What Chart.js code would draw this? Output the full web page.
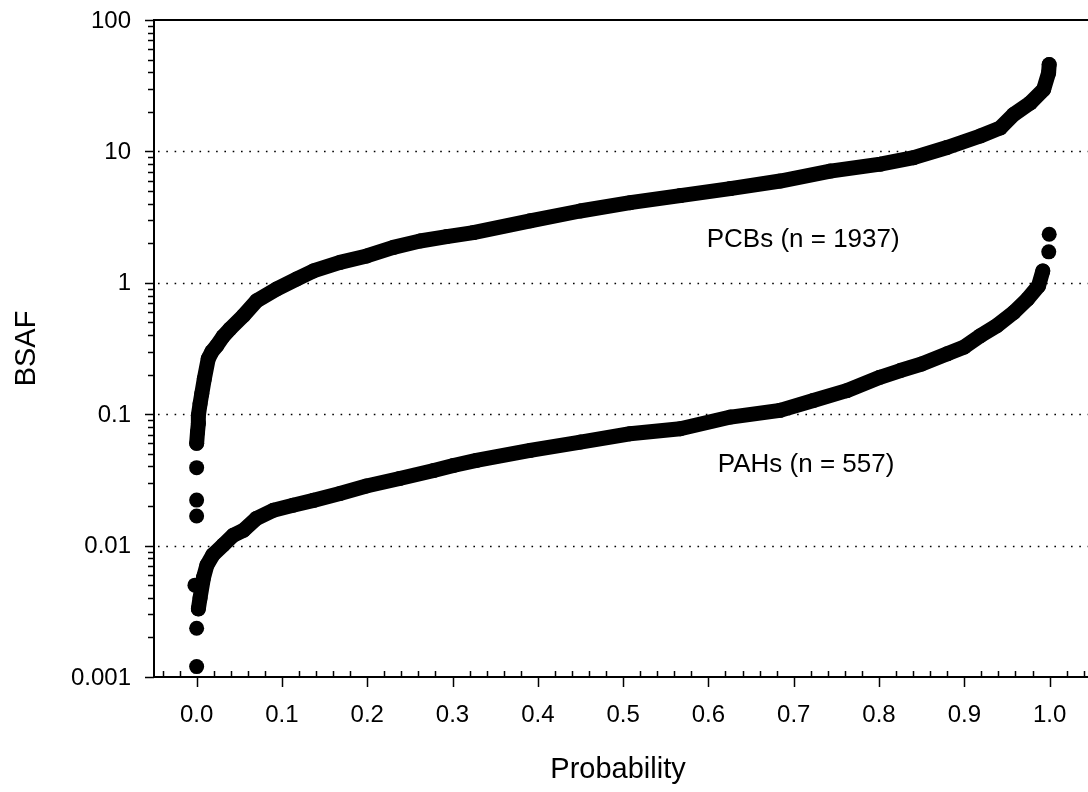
<!DOCTYPE html>
<html>
<head>
<meta charset="utf-8">
<title>BSAF - Probability</title>
<script src="https://cdn.jsdelivr.net/npm/chart.js@4.4.1/dist/chart.umd.min.js"></script>
<style>
  body { margin: 0; background: #fff; }
  #wrap { width: 1088px; height: 792px; }
</style>
</head>
<body>
<div id="wrap"><canvas id="grafico" width="1088" height="792"></canvas></div>
<script>
// PCBs - tratto continuo (probabilita, BSAF)
const pcbProb = [0.000, 0.001, 0.002, 0.002, 0.004, 0.006, 0.009, 0.0136, 0.018, 0.0235, 0.031, 0.039, 0.0547, 0.0704,
  0.0938, 0.1173, 0.1368, 0.168, 0.1994, 0.2306, 0.2619, 0.2932, 0.3244, 0.391, 0.4496, 0.5082, 0.5669,
  0.6255, 0.6842, 0.7428, 0.8015, 0.8405, 0.8797, 0.9187, 0.9422, 0.9578, 0.9774, 0.993, 0.9988, 0.9995];
const pcbBsaf = [0.060, 0.073, 0.085, 0.098, 0.12, 0.143, 0.186, 0.264, 0.300, 0.332, 0.390, 0.445, 0.561, 0.73,
  0.896, 1.07, 1.23, 1.43, 1.60, 1.86, 2.08, 2.25, 2.41, 2.96, 3.52, 4.07, 4.61,
  5.21, 5.95, 7.08, 8.0, 8.96, 10.7, 13.1, 15.1, 19.1, 23.4, 29.6, 39.6, 45.8];
// PCBs - punti isolati
const pcbIsolProb = [0.0, 0.0, 0.0];
const pcbIsolBsaf = [0.0392, 0.0222, 0.0168];

// PAHs - tratto continuo
const pahProb = [0.002, 0.004, 0.008, 0.012, 0.019, 0.031, 0.043, 0.055, 0.070, 0.090, 0.113, 0.137,
  0.168, 0.199, 0.238, 0.278, 0.301, 0.328, 0.391, 0.450, 0.508, 0.567, 0.626, 0.684, 0.723, 0.762,
  0.801, 0.825, 0.850, 0.880, 0.900, 0.919, 0.938, 0.958, 0.974, 0.987, 0.992];
const pahBsaf = [0.0033, 0.0040, 0.0057, 0.0071, 0.0085, 0.0101, 0.0120, 0.0131, 0.0161, 0.0186, 0.0203, 0.0221,
  0.0249, 0.0284, 0.0324, 0.0373, 0.0407, 0.0445, 0.0530, 0.0614, 0.0710, 0.0774, 0.0951, 0.107, 0.127, 0.151,
  0.191, 0.215, 0.241, 0.288, 0.325, 0.396, 0.471, 0.596, 0.751, 0.948, 1.23];
// PAHs - punti isolati
const pahIsolProb = [0.0, 0.0, -0.002, 0.999, 0.9995];
const pahIsolBsaf = [0.0012, 0.00235, 0.0050, 1.72, 2.34];

// assi
const xTicks = [0.0, 0.1, 0.2, 0.3, 0.4, 0.5, 0.6, 0.7, 0.8, 0.9, 1.0];
const xTickLabels = ['0.0', '0.1', '0.2', '0.3', '0.4', '0.5', '0.6', '0.7', '0.8', '0.9', '1.0'];
const yTicks = [0.001, 0.01, 0.1, 1, 10, 100];
const yTickLabels = ['0.001', '0.01', '0.1', '1', '10', '100'];
const gridValues = [0.01, 0.1, 1, 10];
const etichette = ['PCBs (n = 1937)', 'PAHs (n = 557)'];

function punti(xs, ys) {
  return xs.map((x, i) => ({ x: x, y: ys[i] }));
}

const FONT = "'Liberation Sans', Arial, sans-serif";

// Disegno assi, tacche, griglia e testi
const assiPlugin = {
  id: 'assi',
  beforeDatasetsDraw(chart) {
    const ctx = chart.ctx;
    const a = chart.chartArea;
    const sy = chart.scales.y;
    ctx.save();
    ctx.strokeStyle = '#000';
    ctx.lineWidth = 1.6;
    ctx.setLineDash([1.6, 6.7]);
    gridValues.forEach(v => {
      const py = Math.round(sy.getPixelForValue(v)) + 0.5;
      ctx.beginPath();
      ctx.moveTo(a.left + 4, py);
      ctx.lineTo(a.right, py);
      ctx.stroke();
    });
    ctx.restore();
  },
  afterDatasetsDraw(chart) {
    const ctx = chart.ctx;
    const a = chart.chartArea;
    const sx = chart.scales.x;
    const sy = chart.scales.y;
    ctx.save();
    ctx.strokeStyle = '#000';
    ctx.fillStyle = '#000';

    // linee degli assi
    ctx.lineWidth = 2;
    ctx.beginPath();
    ctx.moveTo(a.left, a.top);
    ctx.lineTo(a.right, a.top);
    ctx.moveTo(a.left, a.top - 1);
    ctx.lineTo(a.left, a.bottom + 1);
    ctx.moveTo(a.left - 1, a.bottom);
    ctx.lineTo(a.right, a.bottom);
    ctx.stroke();

    // tacche asse x
    ctx.lineWidth = 1.5;
    ctx.beginPath();
    for (let i = -2; i <= 52; i++) {
      const v = i / 50;
      if (v < sx.min || v > sx.max) continue;
      const px = Math.round(sx.getPixelForValue(v)) + 0.5;
      if (i % 5 === 0) {
        ctx.moveTo(px, a.bottom);
        ctx.lineTo(px, a.bottom + 10);
      } else {
        ctx.moveTo(px, a.bottom);
        ctx.lineTo(px, a.bottom - 6);
      }
    }
    // tacche asse y
    yTicks.forEach(v => {
      const py = Math.round(sy.getPixelForValue(v)) + 0.5;
      ctx.moveTo(a.left, py);
      ctx.lineTo(a.left - 9, py);
      if (v < 100) {
        for (let k = 2; k <= 9; k++) {
          const pm = Math.round(sy.getPixelForValue(v * k)) + 0.5;
          ctx.moveTo(a.left, pm);
          ctx.lineTo(a.left - 6, pm);
        }
      }
    });
    ctx.stroke();

    // etichette tacche
    ctx.font = '24px ' + FONT;
    ctx.textBaseline = 'middle';
    ctx.textAlign = 'center';
    xTicks.forEach((v, i) => {
      ctx.fillText(xTickLabels[i], sx.getPixelForValue(v), a.bottom + 38);
    });
    ctx.textAlign = 'right';
    yTicks.forEach((v, i) => {
      ctx.fillText(yTickLabels[i], a.left - 23, sy.getPixelForValue(v) + 1);
    });

    // titoli assi
    ctx.font = '29px ' + FONT;
    ctx.textAlign = 'center';
    ctx.fillText('Probability', 618, 770);
    ctx.save();
    ctx.translate(27, (a.top + a.bottom) / 2);
    ctx.rotate(-Math.PI / 2);
    ctx.fillText('BSAF', 0, 0);
    ctx.restore();

    // annotazioni serie
    ctx.font = '26px ' + FONT;
    ctx.textAlign = 'left';
    ctx.fillText(etichette[0], sx.getPixelForValue(0.598), sy.getPixelForValue(2.11));
    ctx.fillText(etichette[1], sx.getPixelForValue(0.611), sy.getPixelForValue(0.0413));
    ctx.restore();
  }
};

function serieLinea(label, data) {
  return {
    label: label,
    data: data,
    showLine: true,
    borderColor: '#000',
    backgroundColor: '#000',
    borderWidth: 15,
    borderCapStyle: 'round',
    borderJoinStyle: 'round',
    pointRadius: 7.5,
    pointBorderWidth: 0,
    pointBackgroundColor: '#000'
  };
}

function seriePunti(label, data) {
  return {
    label: label,
    data: data,
    showLine: false,
    backgroundColor: '#000',
    borderColor: '#000',
    pointRadius: 7.5,
    pointBorderWidth: 0
  };
}

const ctx = document.getElementById('grafico').getContext('2d');
new Chart(ctx, {
  type: 'scatter',
  data: {
    datasets: [
      serieLinea('PCBs', punti(pcbProb, pcbBsaf)),
      seriePunti('PCBs isolati', punti(pcbIsolProb, pcbIsolBsaf)),
      serieLinea('PAHs', punti(pahProb, pahBsaf)),
      seriePunti('PAHs isolati', punti(pahIsolProb, pahIsolBsaf))
    ]
  },
  options: {
    responsive: false,
    animation: false,
    devicePixelRatio: 1,
    layout: { autoPadding: false, padding: { left: 154, top: 20, right: 0, bottom: 115 } },
    plugins: {
      legend: { display: false },
      tooltip: { enabled: false }
    },
    scales: {
      x: { type: 'linear', min: -0.05, max: 1.045, display: false },
      y: { type: 'logarithmic', min: 0.001, max: 100, display: false }
    }
  },
  plugins: [assiPlugin]
});
</script>
</body>
</html>
